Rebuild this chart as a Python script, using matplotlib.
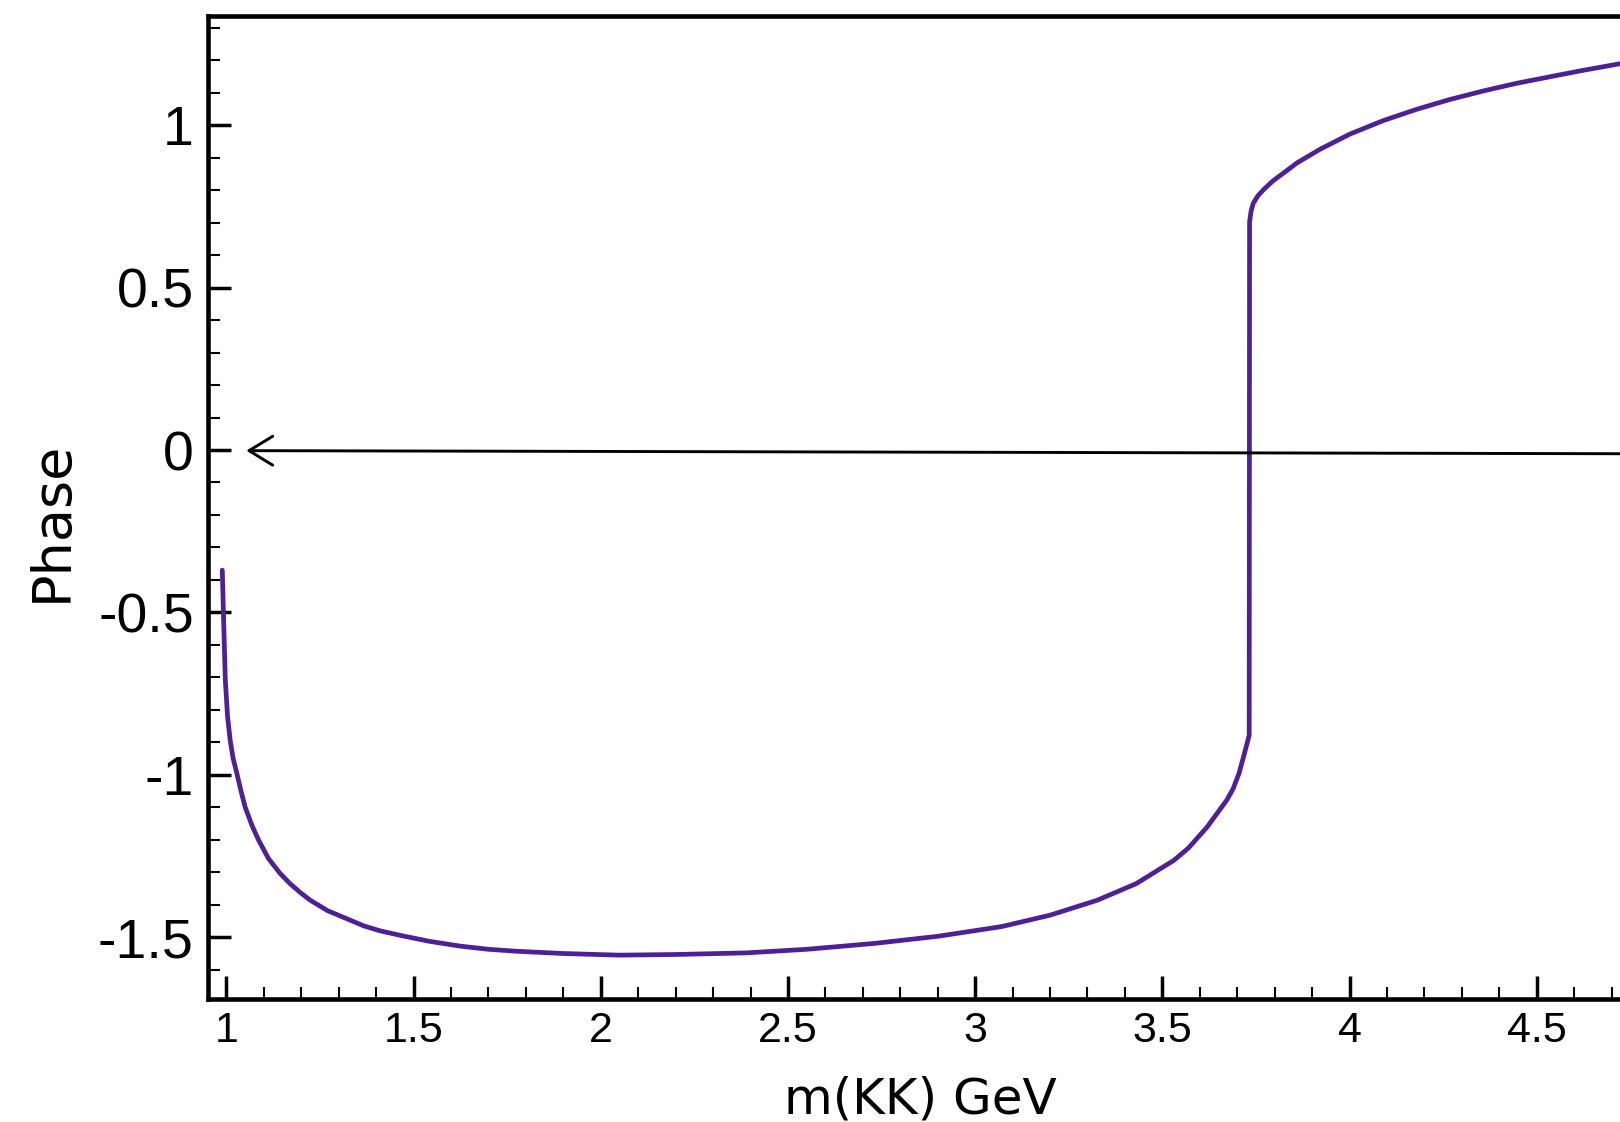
import matplotlib
matplotlib.use("Agg")
import matplotlib.pyplot as plt
from matplotlib.ticker import MultipleLocator, FuncFormatter
from matplotlib.patches import ArrowStyle

plt.rcParams['axes.unicode_minus'] = False

# Curve values (m(KK) in GeV, phase)
mass = [0.989, 0.992, 0.997, 1.003, 1.010, 1.018, 1.028, 1.039, 1.050, 1.068,
        1.086, 1.112, 1.143, 1.170, 1.197, 1.224, 1.27, 1.330, 1.367, 1.41,
        1.464, 1.54, 1.623, 1.70, 1.775, 1.90, 2.049, 2.20, 2.389, 2.55,
        2.730, 2.90, 3.071, 3.20, 3.326, 3.43, 3.531, 3.57, 3.62, 3.672,
        3.689, 3.705, 3.716, 3.726, 3.732, 3.733, 3.737, 3.743, 3.755, 3.770,
        3.795, 3.823, 3.86, 3.92, 4.000, 4.090, 4.18, 4.268, 4.36, 4.447,
        4.54, 4.625, 4.722, 4.76]
phase = [-0.370, -0.503, -0.708, -0.820, -0.893, -0.950, -0.996, -1.050, -1.099, -1.155,
         -1.201, -1.257, -1.303, -1.335, -1.362, -1.386, -1.418, -1.447, -1.465, -1.480,
         -1.494, -1.512, -1.527, -1.537, -1.543, -1.550, -1.555, -1.553, -1.548, -1.537,
         -1.519, -1.497, -1.467, -1.432, -1.386, -1.335, -1.263, -1.225, -1.160, -1.078,
         -1.043, -0.995, -0.948, -0.905, -0.878, 0.703, 0.735, 0.760, 0.782, 0.801,
         0.828, 0.852, 0.884, 0.925, 0.972, 1.014, 1.049, 1.079, 1.106, 1.129,
         1.150, 1.169, 1.189, 1.196]

xticks_major = [1, 1.5, 2, 2.5, 3, 3.5, 4, 4.5]
yticks_major = [-1.5, -1, -0.5, 0, 0.5, 1]

fig = plt.figure(figsize=(16.2, 11.22), dpi=100)
ax = fig.add_axes([207.7 / 1620, 1 - 999 / 1122, (1630.3 - 207.7) / 1620, (999 - 16) / 1122])
ax.set_xlim(0.95, 4.75)
ax.set_ylim(-1.690, 1.336)

ax.plot(mass, phase, color='#4f1f97', lw=3.4, solid_capstyle='round', solid_joinstyle='round')

# arrow pointing at zero
ax.annotate('', xy=(1.053, -0.002), xytext=(4.85, -0.0118),
            arrowprops=dict(arrowstyle=ArrowStyle('->', head_length=17, head_width=10.4),
                            mutation_scale=1, lw=2.1, color='black',
                            shrinkA=0, shrinkB=0),
            annotation_clip=False)

for side in ['left', 'bottom', 'top', 'right']:
    ax.spines[side].set_linewidth(3.3)
    ax.spines[side].set_color('black')

ax.xaxis.set_minor_locator(MultipleLocator(0.1))
ax.yaxis.set_minor_locator(MultipleLocator(0.1))
ax.set_xticks(xticks_major)
ax.set_yticks(yticks_major)
fmt = FuncFormatter(lambda v, p: '%g' % v)
ax.xaxis.set_major_formatter(fmt)
ax.yaxis.set_major_formatter(fmt)

ax.tick_params(which='both', direction='in', top=False, right=False, colors='black')
ax.tick_params(which='major', length=16.5, width=2.5)
ax.tick_params(which='minor', length=8.6, width=1.5)
ax.tick_params(axis='x', which='major', labelsize=31, pad=9)
ax.tick_params(axis='y', which='major', labelsize=40, pad=10)
for lab in ax.get_xticklabels() + ax.get_yticklabels():
    lab.set_family('Liberation Sans')

fig.text(52 / 1620, 1 - 521 / 1122, 'Phase', rotation=90, ha='center', va='center',
         fontsize=39, family='DejaVu Sans')
fig.text(920.8 / 1620, 1 - 1113.5 / 1122, 'm(KK) GeV', ha='center', va='baseline',
         fontsize=36, family='DejaVu Sans')

fig.savefig('out.png', dpi=100)
